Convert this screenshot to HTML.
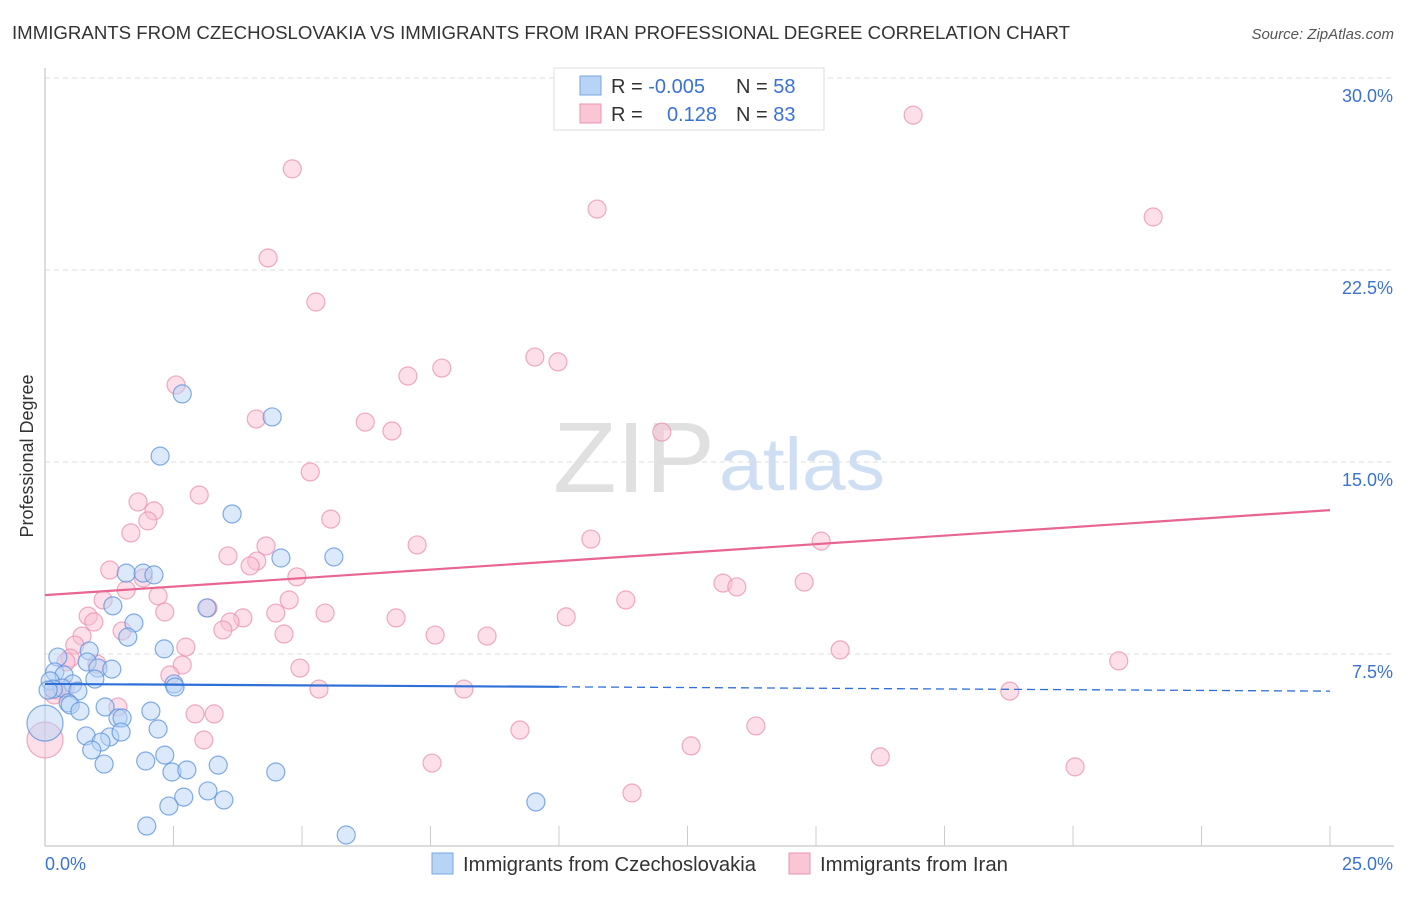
<!DOCTYPE html>
<html><head><meta charset="utf-8"><style>
body{margin:0;background:#fff;font-family:"Liberation Sans",sans-serif;}
svg text{font-family:"Liberation Sans",sans-serif;}
</style></head><body>
<svg id="chart" width="1406" height="892" xmlns="http://www.w3.org/2000/svg">
<text x="12" y="39" font-size="18.5" fill="#333" textLength="1058" lengthAdjust="spacingAndGlyphs">IMMIGRANTS FROM CZECHOSLOVAKIA VS IMMIGRANTS FROM IRAN PROFESSIONAL DEGREE CORRELATION CHART</text>
<text x="1394" y="39" font-size="15" fill="#555" text-anchor="end" font-style="italic">Source: ZipAtlas.com</text>
<text transform="translate(33,456) rotate(-90)" font-size="18" fill="#333" text-anchor="middle">Professional Degree</text>
<g><text x="553" y="492" font-size="100" fill="#e0e0e0" font-family="Liberation Serif" textLength="162" lengthAdjust="spacingAndGlyphs">ZIP</text><text x="719" y="490" font-size="74" fill="#cfdff3" textLength="166" lengthAdjust="spacingAndGlyphs">atlas</text></g>
<g id="grid"></g><g id="pts"></g><g id="lines"></g>
<g>
<rect x="554" y="68" width="270" height="62" fill="#fff" stroke="#ddd"/>
<rect x="580" y="76" width="21" height="19" fill="#b7d3f5" stroke="#7aa7e0"/>
<rect x="580" y="104" width="21" height="19" fill="#fac6d6" stroke="#eb94b0"/>
<text x="611" y="93" font-size="20" fill="#333">R = <tspan fill="#3a72d4">-0.005</tspan></text>
<text x="736" y="93" font-size="20" fill="#333">N = <tspan fill="#3a72d4">58</tspan></text>
<text x="611" y="121" font-size="20" fill="#333">R =</text><text x="717" y="121" font-size="20" fill="#3a72d4" text-anchor="end">0.128</text>
<text x="736" y="121" font-size="20" fill="#333">N = <tspan fill="#3a72d4">83</tspan></text>
</g>
<g>
<rect x="432" y="853" width="21" height="21" fill="#b7d3f5" stroke="#7aa7e0"/>
<text x="463" y="871" font-size="20" fill="#333" textLength="293" lengthAdjust="spacingAndGlyphs">Immigrants from Czechoslovakia</text>
<rect x="789" y="853" width="21" height="21" fill="#fac6d6" stroke="#eb94b0"/>
<text x="820" y="871" font-size="20" fill="#333" textLength="188" lengthAdjust="spacingAndGlyphs">Immigrants from Iran</text>
</g>
</svg>
<script>
const yTicks=[7.5,15,22.5,30];
const yTickLabels=["7.5%","15.0%","22.5%","30.0%"];
const xTickLabels=["0.0%","25.0%"];
const blueX=[2.67,4.42,2.24,3.64,4.59,5.62,1.58,1.91,2.12,1.32,3.15,1.73,1.61,2.32,0.86,0.25,0.82,1.03,1.30,0.19,0.37,0.97,0.10,0.54,0.33,0.64,0.16,2.51,2.53,0.45,0.49,0.68,2.06,1.17,1.42,1.50,1.26,1.48,0.80,1.09,2.20,0.91,2.33,1.15,1.96,3.37,2.47,2.76,4.49,3.17,2.70,3.48,2.41,9.55,1.98,5.86,0,0.06];
const blueY=[17.66,16.76,15.23,12.97,11.25,11.29,10.66,10.66,10.59,9.38,9.30,8.71,8.16,7.70,7.62,7.38,7.19,6.95,6.91,6.80,6.68,6.52,6.45,6.33,6.17,6.05,6.13,6.33,6.21,5.59,5.51,5.27,5.27,5.43,5.00,5.00,4.26,4.45,4.30,4.06,4.57,3.75,3.55,3.20,3.32,3.16,2.89,2.97,2.89,2.15,1.91,1.80,1.56,1.72,0.78,0.43,4.80,6.09];
const pinkX=[4.81,16.89,10.74,21.56,4.34,5.27,9.53,9.98,7.06,7.72,2.55,4.11,6.23,6.75,12.00,5.16,3.00,1.81,2.12,5.56,2.00,1.67,10.62,15.10,4.30,7.24,3.56,4.12,3.99,1.26,4.90,13.19,14.77,13.46,1.91,1.58,2.20,4.75,1.13,11.30,2.33,3.17,4.49,5.45,0.84,10.14,6.83,3.85,3.60,0.95,1.50,3.46,7.59,8.60,4.65,0.72,0.58,2.74,15.47,20.89,0.49,1.01,2.67,0.41,4.96,2.43,0.39,5.33,8.15,18.77,1.42,2.92,3.29,9.24,13.83,3.09,12.57,16.25,7.53,20.04,11.42,0,0.23,0.18];
const pinkY=[26.45,28.55,24.88,24.57,22.97,21.25,19.10,18.91,18.36,18.67,18.01,16.68,16.56,16.21,16.17,14.61,13.71,13.44,13.09,12.77,12.70,12.23,11.99,11.91,11.72,11.76,11.33,11.13,10.94,10.78,10.51,10.27,10.31,10.12,10.47,10.00,9.77,9.61,9.61,9.61,9.14,9.30,9.10,9.10,8.98,8.95,8.91,8.91,8.75,8.75,8.40,8.44,8.24,8.20,8.28,8.20,7.85,7.77,7.66,7.23,7.34,7.11,7.07,7.19,6.95,6.68,6.17,6.13,6.13,6.05,5.43,5.16,5.16,4.53,4.69,4.14,3.91,3.48,3.24,3.09,2.07,4.14,6.09,5.90];
const blueTrend=[6.33,6.05];
const pinkTrend=[9.80,13.12];
const NS="http://www.w3.org/2000/svg";
const X0=45,X1=1330,Y0=846,PXPER=192/7.5;
function sx(v){return X0+(v/25)*(X1-X0);}
function sy(v){return Y0-v*PXPER;}
function mk(t,a,p){const e=document.createElementNS(NS,t);for(const k in a)e.setAttribute(k,a[k]);p.appendChild(e);return e;}
const grid=document.getElementById('grid');
yTicks.forEach((t,i)=>{
 const l=mk('line',{x1:X0,x2:1394,y1:sy(t),y2:sy(t),stroke:'#ddd','stroke-dasharray':'5,4'},grid);
 
 
 const tx=mk('text',{x:1393,y:sy(t)+24,'font-size':18,fill:'#3a72d4','text-anchor':'end'},grid);
 tx.textContent=yTickLabels[i];
 
 
});
const ax=mk('line',{x1:X0,x2:X0,y1:68,y2:Y0,stroke:'#bbb'},grid);


const bx=mk('line',{x1:X0,x2:1394,y1:Y0,y2:Y0,stroke:'#bbb'},grid);


for(let i=1;i<=10;i++){const tk=mk('line',{x1:sx(i*2.5),x2:sx(i*2.5),y1:826,y2:Y0,stroke:'#ccc'},grid);
 
 }
[[0,'start',45],[1,'end',1393]].forEach(([i,a,x])=>{const t=mk('text',{x:x,y:870,'font-size':18,fill:'#3a72d4','text-anchor':a},grid);t.textContent=xTickLabels[i];
 
 });
const pts=document.getElementById('pts');
function draw(xs,ys,fill,stroke,name){xs.forEach((x,i)=>{const big=(x===0);
 const c=mk('circle',{cx:sx(x),cy:sy(ys[i]),r:big?18:9,fill:fill,'fill-opacity':0.5,stroke:stroke,'stroke-opacity':0.75,'stroke-width':1.2},pts);
 
 });}
draw(pinkX,pinkY,'#f9c0d2','#eb8fae','iran-point');
draw(blueX,blueY,'#b7d3f5','#5a90dd','czechoslovakia-point');
const lines=document.getElementById('lines');
const pl=mk('line',{x1:sx(0),y1:sy(pinkTrend[0]),x2:sx(25),y2:sy(pinkTrend[1]),stroke:'#e8658f','stroke-width':2.2},lines);


const mid=10;const bm=blueTrend[0]+(blueTrend[1]-blueTrend[0])*mid/25;
const bl=mk('line',{x1:sx(0),y1:sy(blueTrend[0]),x2:sx(mid),y2:sy(bm),stroke:'#2e6fd8','stroke-width':2.2},lines);


const bd=mk('line',{x1:sx(mid),y1:sy(bm),x2:sx(25),y2:sy(blueTrend[1]),stroke:'#2e6fd8','stroke-width':1.3,'stroke-dasharray':'8,5'},lines);


</script>
</body></html>
